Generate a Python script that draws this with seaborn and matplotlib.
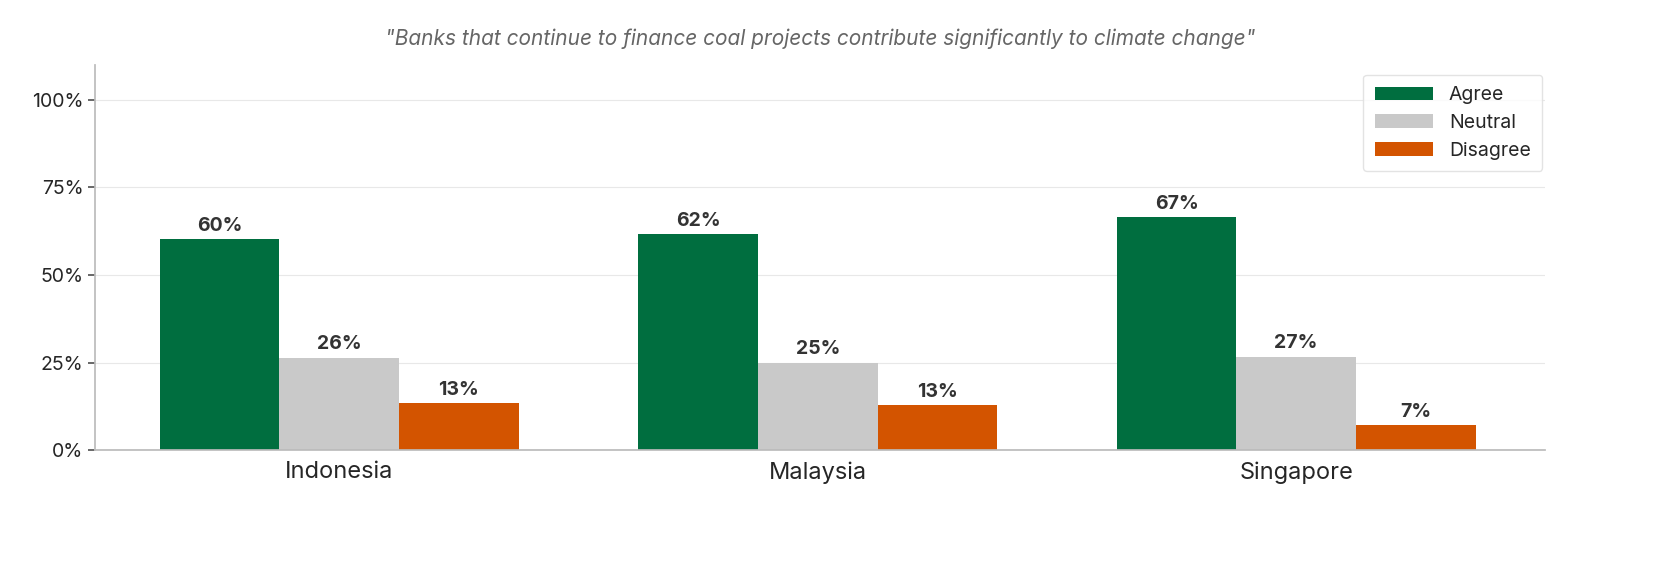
import matplotlib
matplotlib.use("Agg")
import matplotlib.pyplot as plt
import seaborn as sns
import pandas as pd
from matplotlib.ticker import FuncFormatter

countries = ["Indonesia", "Malaysia", "Singapore"]
responses = ["Agree", "Neutral", "Disagree"]
agree = [60.3, 61.6, 66.6]
neutral = [26.4, 25.0, 26.7]
disagree = [13.4, 12.9, 7.1]
colors = ["#006E3F", "#C9C9C9", "#D35400"]

rows = []
for i, c in enumerate(countries):
    for r, vals in zip(responses, [agree, neutral, disagree]):
        rows.append({"country": c, "response": r, "value": vals[i]})
df = pd.DataFrame(rows)

sns.set_theme(style="white")
plt.rcParams["font.family"] = ["Inter", "DejaVu Sans"]

fig = plt.figure(figsize=(16.72, 5.64), dpi=100)
ax = fig.add_axes([0.057, 0.202, 0.867, 0.683])
sns.barplot(data=df, x="country", y="value", hue="response", palette=colors,
            width=0.75, saturation=1, linewidth=0, ax=ax)

for cont in ax.containers:
    ax.bar_label(cont, labels=[f"{v:.0f}%" for v in cont.datavalues],
                 padding=3, fontsize=14, fontweight="bold", color="#333333")

ax.set_ylim(0, 110)
ax.set_xlim(-0.51, 2.52)
ax.set_yticks([0, 25, 50, 75, 100])
ax.yaxis.set_major_formatter(FuncFormatter(lambda v, p: f"{v:.0f}%"))
ax.grid(axis="y", color="#E8E8E8", linewidth=0.8)
ax.set_axisbelow(True)
ax.set_xlabel("")
ax.set_ylabel("")
ax.tick_params(axis="x", labelsize=17, length=0, pad=8)
ax.tick_params(axis="y", labelsize=14, left=True, length=5, color="#555555")
sns.despine(ax=ax)
for s in ["left", "bottom"]:
    ax.spines[s].set_color("#BBBBBB")
ax.set_title('"Banks that continue to finance coal projects contribute significantly to climate change"',
             fontsize=15, style="italic", color="#666666", pad=14)
leg = ax.legend(loc="upper right", fontsize=14, frameon=True, handlelength=3,
                borderpad=0.6, labelspacing=0.5, bbox_to_anchor=(1.005, 1.0))
leg.get_frame().set_edgecolor("#DDDDDD")
leg.set_title(None)

fig.savefig("out.png", dpi=100)
